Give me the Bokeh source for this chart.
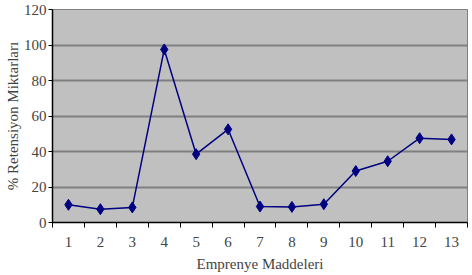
from bokeh.plotting import figure
from bokeh.models import FixedTicker, Range1d, ColumnDataSource
from bokeh.embed import file_html
from bokeh.resources import INLINE

items = [1, 2, 3, 4, 5, 6, 7, 8, 9, 10, 11, 12, 13]
retention = [10, 7.5, 8.5, 97.5, 38.5, 52.5, 9, 8.8, 10.3, 29, 34.5, 47.5, 46.8]
y_ticks = [0, 20, 40, 60, 80, 100, 120]

FONT = "Liberation Serif"

p = figure(width=472, height=275, frame_width=415, frame_height=213,
           output_backend="svg", toolbar_location=None,
           x_range=Range1d(0.5, 13.5), y_range=Range1d(0, 120),
           min_border_left=52, min_border_right=5, min_border_top=9, min_border_bottom=53)
p.background_fill_color = "#C0C0C0"
p.border_fill_color = "white"
p.outline_line_color = "#808080"
p.outline_line_width = 1

p.xgrid.grid_line_color = None
p.ygrid.grid_line_color = "#808080"
p.ygrid.grid_line_width = 2
p.ygrid.ticker = FixedTicker(ticks=y_ticks)

src = ColumnDataSource(dict(x=items, y=retention))
p.line("x", "y", source=src, line_color="#000080", line_width=1.5)
p.scatter("x", "y", source=src, marker="diamond", size=11, fill_color="#000080", line_color="#000080")

xa = p.xaxis[0]
xa.ticker = FixedTicker(ticks=items, minor_ticks=[i + 0.5 for i in range(0, 14)])
xa.major_tick_line_color = None
xa.minor_tick_line_color = "black"
xa.minor_tick_out = 5
xa.minor_tick_in = 0
xa.axis_line_color = "black"
xa.axis_line_width = 1.5
xa.major_label_text_font = FONT
xa.major_label_text_font_size = "15px"
xa.major_label_standoff = 8
xa.axis_label = "Emprenye Maddeleri"
xa.axis_label_text_font = FONT
xa.axis_label_text_font_size = "15px"
xa.axis_label_text_font_style = "normal"
xa.axis_label_standoff = 6

ya = p.yaxis[0]
ya.ticker = FixedTicker(ticks=y_ticks)
ya.minor_tick_line_color = None
ya.major_tick_out = 4
ya.major_tick_in = 0
ya.axis_line_color = "black"
ya.axis_line_width = 1.5
ya.major_label_text_font = FONT
ya.major_label_text_font_size = "15px"
ya.major_label_standoff = 2
ya.axis_label = "% Retensiyon Miktarları"
ya.axis_label_text_font = FONT
ya.axis_label_text_font_size = "15px"
ya.axis_label_text_font_style = "normal"
ya.axis_label_standoff = 0

open("out.html", "w").write(file_html(p, INLINE))
